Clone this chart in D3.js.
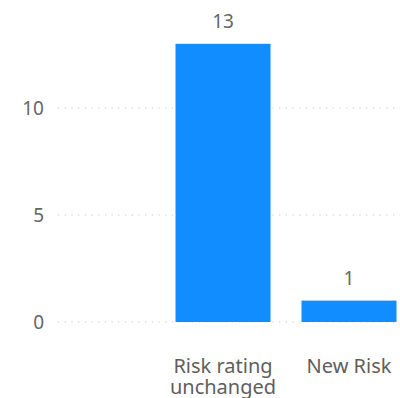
<!DOCTYPE html>
<html>
<head>
<meta charset="utf-8">
<script src="https://cdn.jsdelivr.net/npm/d3@7"></script>
<style>
  html, body { margin: 0; padding: 0; background: #fff; }
  svg { display: block; font-family: "Segoe UI", "Noto Sans", sans-serif; }
</style>
</head>
<body>
<div id="chart"></div>
<script>
  var categories = ["Risk rating unchanged", "New Risk"];
  var values = [13, 1];
  var yTicks = [0, 5, 10];

  var width = 400, height = 398;
  var barColor = "#118DFF";

  var svg = d3.select("#chart").append("svg")
    .attr("width", width).attr("height", height);

  var x = d3.scaleBand().domain(categories)
    .range([160, 412]).paddingInner(0.246).paddingOuter(0.123);
  var y = d3.scaleLinear().domain([0, 14]).range([322, 322 - 14 * 21.4]);

  // gridlines
  svg.append("g").selectAll("line").data(yTicks).enter().append("line")
    .attr("x1", 58).attr("x2", width)
    .attr("y1", function(d) { return y(d); })
    .attr("y2", function(d) { return y(d); })
    .style("stroke", "#c8c8c8").style("stroke-width", 1.2)
    .style("stroke-dasharray", "1.2,5.5");

  // y axis labels
  svg.append("g").selectAll("text").data(yTicks).enter().append("text")
    .attr("x", 44).attr("y", function(d) { return y(d); })
    .attr("dy", "0.36em")
    .attr("text-anchor", "end")
    .style("font-size", "19px").style("fill", "#666")
    .text(function(d) { return d; });

  // bars
  svg.append("g").selectAll("rect").data(values).enter().append("rect")
    .attr("x", function(d, i) { return x(categories[i]); })
    .attr("width", x.bandwidth())
    .attr("y", function(d) { return y(d); })
    .attr("height", function(d) { return y(0) - y(d); })
    .style("fill", barColor);

  // data labels
  svg.append("g").selectAll("text").data(values).enter().append("text")
    .attr("x", function(d, i) { return x(categories[i]) + x.bandwidth() / 2; })
    .attr("y", function(d) { return y(d) - 16; })
    .attr("text-anchor", "middle")
    .style("font-size", "19px").style("fill", "#666")
    .text(function(d) { return d; });

  // category labels, wrapped
  var cat = svg.append("g").selectAll("text").data(categories).enter().append("text")
    .attr("x", function(d) { return x(d) + x.bandwidth() / 2; })
    .attr("y", 373)
    .attr("text-anchor", "middle")
    .style("font-size", "20px").style("fill", "#605E5C");

  cat.each(function(d) {
    var el = d3.select(this), words = d.split(" "), lines = [], cur = [];
    var maxW = 112;
    var probe = el.append("tspan");
    words.forEach(function(w) {
      var test = cur.concat([w]).join(" ");
      probe.text(test);
      if (cur.length && probe.node().getComputedTextLength() > maxW) {
        lines.push(cur.join(" "));
        cur = [w];
      } else {
        cur.push(w);
      }
    });
    lines.push(cur.join(" "));
    probe.remove();
    lines.forEach(function(l, i) {
      el.append("tspan")
        .attr("x", x(d) + x.bandwidth() / 2)
        .attr("dy", i === 0 ? 0 : 21)
        .text(l);
    });
  });
</script>
</body>
</html>
